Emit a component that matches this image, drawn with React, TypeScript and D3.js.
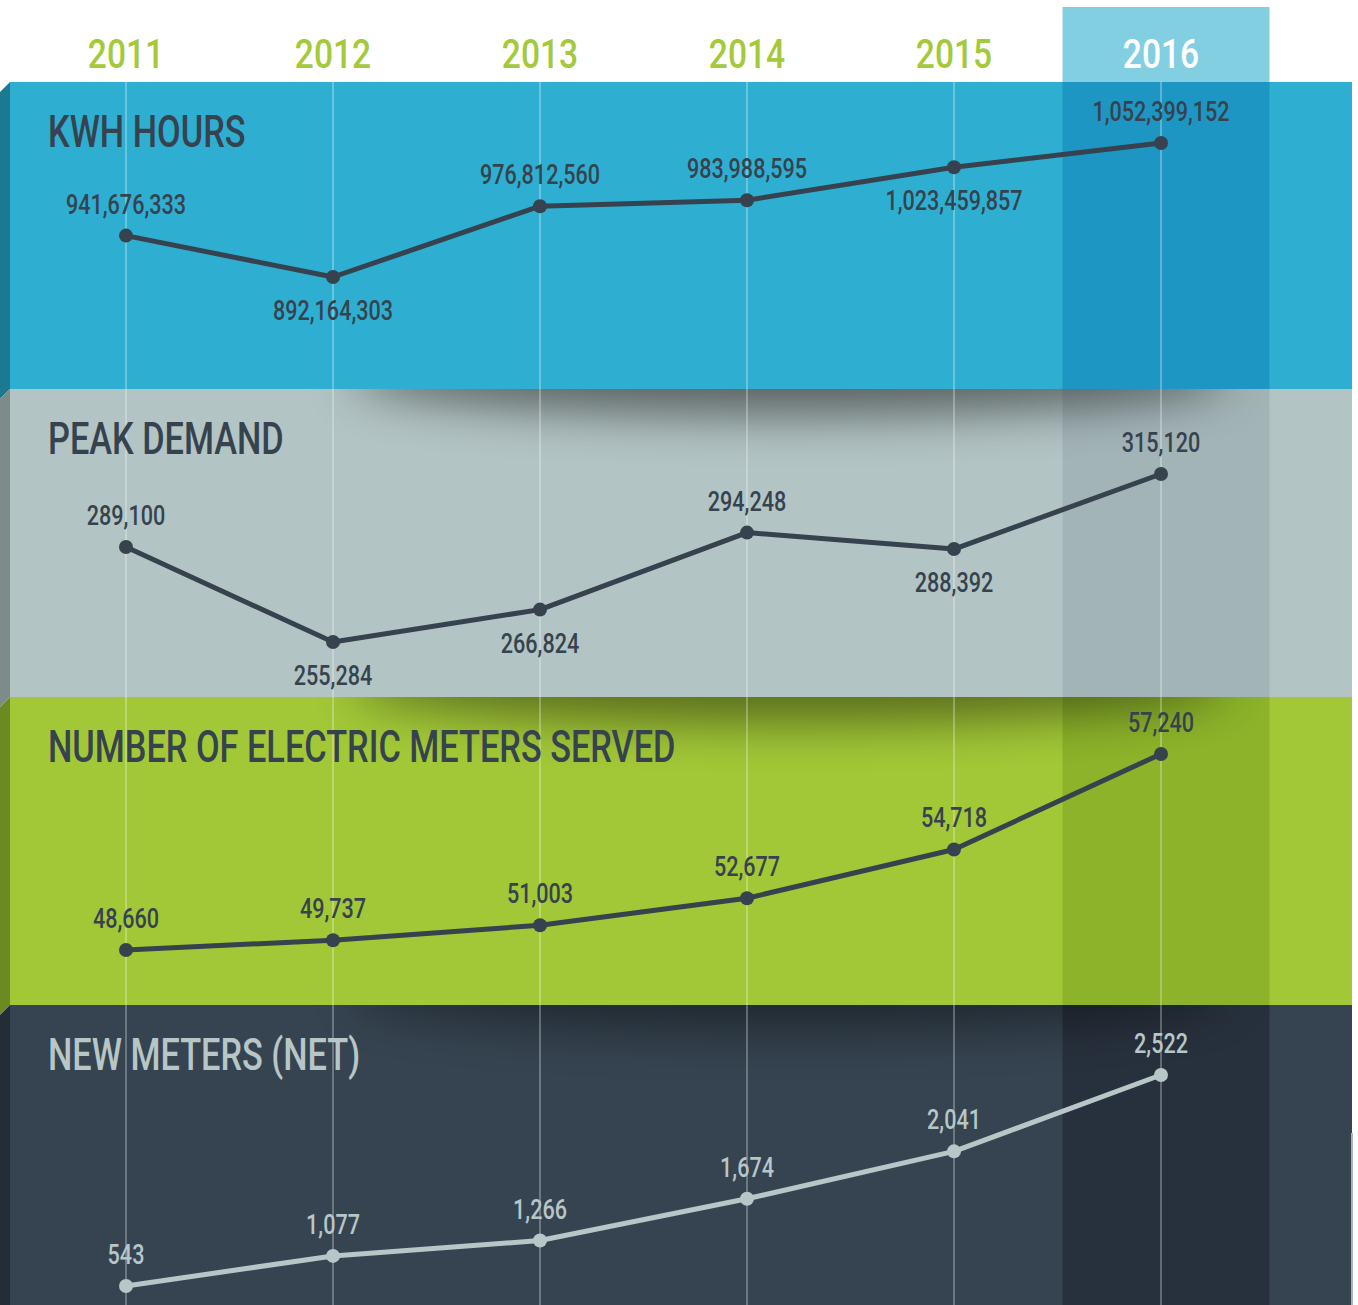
import React from "react";
import * as d3 from "d3";

const years = ["2011", "2012", "2013", "2014", "2015", "2016"];
const highlightYear = "2016";

const kwhValues = [941676333, 892164303, 976812560, 983988595, 1023459857, 1052399152];
const kwhLabelSide = ["above", "below", "above", "above", "below", "above"];

const peakValues = [289100, 255284, 266824, 294248, 288392, 315120];
const peakLabelSide = ["above", "below", "below", "above", "below", "above"];

const metersValues = [48660, 49737, 51003, 52677, 54718, 57240];
const metersLabelSide = ["above", "above", "above", "above", "above", "above"];

const newMetersValues = [543, 1077, 1266, 1674, 2041, 2522];
const newMetersLabelSide = ["above", "above", "above", "above", "above", "above"];

const panelTitles = ["KWH HOURS", "PEAK DEMAND", "NUMBER OF ELECTRIC METERS SERVED", "NEW METERS (NET)"];

const W = 1358;
const H = 1305;
const FONT = "Roboto, 'Noto Sans', sans-serif";
const SX = 0.8;

const x = d3.scalePoint<string>().domain(years).range([126, 1161]).padding(0);
const step = x.step();

const bandTops = [82, 389, 697, 1005];
const bandBottoms = [389, 697, 1005, 1305];

const bandStyles = [
  { fill: "#2EAFD2", side: "#1B7A8F", hi: "#1E96C3", line: "#36434F", title: "#36434F", label: "#36434F", shadow: 0 },
  { fill: "#B3C4C4", side: "#7E8B8B", hi: "#A3B4B7", line: "#36434F", title: "#36434F", label: "#36434F", shadow: 0.5 },
  { fill: "#A2C837", side: "#6C8A22", hi: "#8CB32A", line: "#36434F", title: "#36434F", label: "#36434F", shadow: 0.45 },
  { fill: "#364451", side: "#232D38", hi: "#27313D", line: "#B7C6C6", title: "#B7C6C6", label: "#B7C6C6", shadow: 0.4 },
];

const panels = [
  {
    values: kwhValues,
    sides: kwhLabelSide,
    y: d3.scaleLinear().domain([892164303, 1052399152]).range([277, 143]),
  },
  {
    values: peakValues,
    sides: peakLabelSide,
    y: d3.scaleLinear().domain([255284, 315120]).range([642, 474]),
  },
  {
    values: metersValues,
    sides: metersLabelSide,
    y: d3.scalePow().exponent(12).domain([48660, 57240]).range([950, 754]),
  },
  {
    values: newMetersValues,
    sides: newMetersLabelSide,
    y: d3.scalePow().exponent(2).domain([543, 2522]).range([1286, 1075]),
  },
];

const fmt = d3.format(",");

function CText(props: { x: number; y: number; size: number; fill: string; weight?: number; anchor?: string; children: any; sx?: number }) {
  const { x: tx, y: ty, size, fill, weight = 500, anchor = "middle", children, sx = SX } = props;
  return (
    <text
      transform={`translate(${tx},${ty}) scale(${sx},1)`}
      textAnchor={anchor}
      fontFamily={FONT}
      fontSize={size}
      fontWeight={weight}
      fill={fill}
    >
      {children}
    </text>
  );
}

export default function App() {
  const hx = (x(highlightYear) as number) - step / 2 + 5;
  const right = 1352;
  const line = d3.line<[number, number]>().x((d) => d[0]).y((d) => d[1]);

  return (
    <svg width={W} height={H} style={{ position: "absolute", left: 0, top: 0, display: "block" }}>
      <defs>
        <filter id="blur" x="-50%" y="-200%" width="200%" height="500%">
          <feGaussianBlur stdDeviation="24" />
        </filter>
        {bandTops.map((t, i) => (
          <clipPath id={`clip${i}`} key={i}>
            <rect x={10} y={t} width={right - 10} height={bandBottoms[i] - t} />
          </clipPath>
        ))}
      </defs>
      <rect x={0} y={0} width={W} height={H} fill="#ffffff" />

      {/* highlight header */}
      <rect x={hx} y={7} width={step} height={82 - 7} fill="#83CFE2" />

      {/* bands */}
      {bandTops.map((t, i) => {
        const s = bandStyles[i];
        const b = bandBottoms[i];
        return (
          <g key={i}>
            <rect x={10} y={t} width={right - 10} height={b - t} fill={s.fill} />
            <rect x={hx} y={t} width={step} height={b - t} fill={s.hi} />
            {s.shadow > 0 && (
              <g clipPath={`url(#clip${i})`}>
                <ellipse cx={790} cy={t - 14} rx={440} ry={40} fill="#000" opacity={s.shadow} filter="url(#blur)" />
              </g>
            )}
            <polygon
              points={`10,${t} 0,${t + 10} 0,${Math.min(b + 10, H)} 10,${b}`}
              fill={s.side}
            />
          </g>
        );
      })}
      <line x1={right} x2={right} y1={1133} y2={H} stroke="#A9B3BA" strokeWidth={2} />

      {/* grid lines */}
      {years.map((yr) => (
        <line
          key={yr}
          x1={x(yr)}
          x2={x(yr)}
          y1={82}
          y2={H}
          stroke="#ffffff"
          strokeOpacity={0.28}
          strokeWidth={2}
        />
      ))}

      {/* year labels */}
      {years.map((yr) => (
        <CText key={yr} x={x(yr) as number} y={68} size={41} weight={500} fill={yr === highlightYear ? "#ffffff" : "#A4C93A"} sx={0.82}>
          {yr}
        </CText>
      ))}

      {/* panels */}
      {panels.map((p, i) => {
        const s = bandStyles[i];
        const pts: [number, number][] = p.values.map((v, j) => [x(years[j]) as number, p.y(v)]);
        return (
          <g key={i}>
            <CText x={48} y={bandTops[i] + 65} size={44} anchor="start" fill={s.title} sx={0.78}>
              {panelTitles[i]}
            </CText>
            <path d={line(pts) || ""} fill="none" stroke={s.line} strokeWidth={5} strokeLinejoin="round" />
            {pts.map((pt, j) => (
              <circle key={j} cx={pt[0]} cy={pt[1]} r={7} fill={s.line} />
            ))}
            {pts.map((pt, j) => (
              <CText
                key={"l" + j}
                x={pt[0]}
                y={p.sides[j] === "above" ? pt[1] - 22 : pt[1] + 43}
                size={27}
                fill={s.label}
              >
                {fmt(p.values[j])}
              </CText>
            ))}
          </g>
        );
      })}
    </svg>
  );
}
